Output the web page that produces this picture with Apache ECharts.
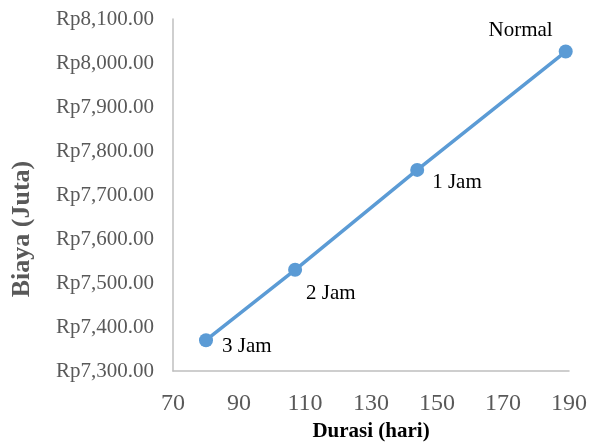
<!DOCTYPE html>
<html>
<head>
<meta charset="utf-8">
<script src="https://cdn.jsdelivr.net/npm/echarts@6/dist/echarts.min.js"></script>
<style>
  html, body { margin: 0; padding: 0; background: #fff; }
  #chart { width: 592px; height: 443px; }
</style>
</head>
<body>
<div id="chart"></div>
<script>
// Crash scenarios: project duration (days) vs. cost (million Rp)
const scenarios = ['3 Jam', '2 Jam', '1 Jam', 'Normal'];
const durations = [80, 107, 144, 189];
const costs = [7370, 7530, 7757, 8026];

const xTicks = { min: 70, max: 190, step: 20 };
const yTicks = { min: 7300, max: 8100, step: 100 };

// label placement around each marker
const labelPlacement = {
  '3 Jam': { position: 'right', offset: [9, 6] },
  '2 Jam': { position: 'right', offset: [4, 24] },
  '1 Jam': { position: 'right', offset: [8, 13] },
  'Normal': { position: 'left', offset: [-6, -21] }
};

const serif = '"Liberation Serif", "Times New Roman", serif';

function rupiah(v) {
  return 'Rp' + v.toLocaleString('en-US', { minimumFractionDigits: 2, maximumFractionDigits: 2 });
}

const points = scenarios.map((name, i) => ({
  name: name,
  value: [durations[i], costs[i]],
  label: {
    show: true,
    formatter: name,
    position: labelPlacement[name].position,
    offset: labelPlacement[name].offset,
    distance: 0
  }
}));

const chart = echarts.init(document.getElementById('chart'));
chart.setOption({
  animation: false,
  backgroundColor: '#fff',
  grid: { left: 173, right: 23, top: 19, bottom: 72, containLabel: false, outerBoundsMode: 'none' },
  xAxis: {
    type: 'value',
    min: xTicks.min,
    max: xTicks.max,
    interval: xTicks.step,
    name: 'Durasi (hari)',
    nameLocation: 'middle',
    nameGap: 48,
    nameTextStyle: { fontFamily: serif, fontSize: 21, fontWeight: 'bold', color: '#000' },
    axisLine: { show: true, lineStyle: { color: '#BFBFBF', width: 1.5 } },
    axisTick: { show: false },
    splitLine: { show: false },
    axisLabel: { fontFamily: serif, fontSize: 24, color: '#595959', margin: 21 }
  },
  yAxis: {
    type: 'value',
    min: yTicks.min,
    max: yTicks.max,
    interval: yTicks.step,
    axisLine: { show: true, lineStyle: { color: '#BFBFBF', width: 1.5 } },
    axisTick: { show: false },
    splitLine: { show: false },
    axisLabel: { fontFamily: serif, fontSize: 21, color: '#595959', margin: 19, formatter: rupiah }
  },
  graphic: [{
    type: 'text',
    x: 22,
    y: 229,
    rotation: Math.PI / 2,
    style: {
      text: 'Biaya (Juta)',
      fontFamily: serif,
      fontSize: 26,
      fontWeight: 'bold',
      fill: '#595959',
      textAlign: 'center',
      textVerticalAlign: 'middle'
    }
  }],
  series: [{
    type: 'line',
    data: points,
    symbol: 'circle',
    symbolSize: 14,
    lineStyle: { color: '#5B9BD5', width: 3.5 },
    itemStyle: { color: '#5B9BD5' },
    label: { fontFamily: serif, fontSize: 21, color: '#000' }
  }]
});
</script>
</body>
</html>
